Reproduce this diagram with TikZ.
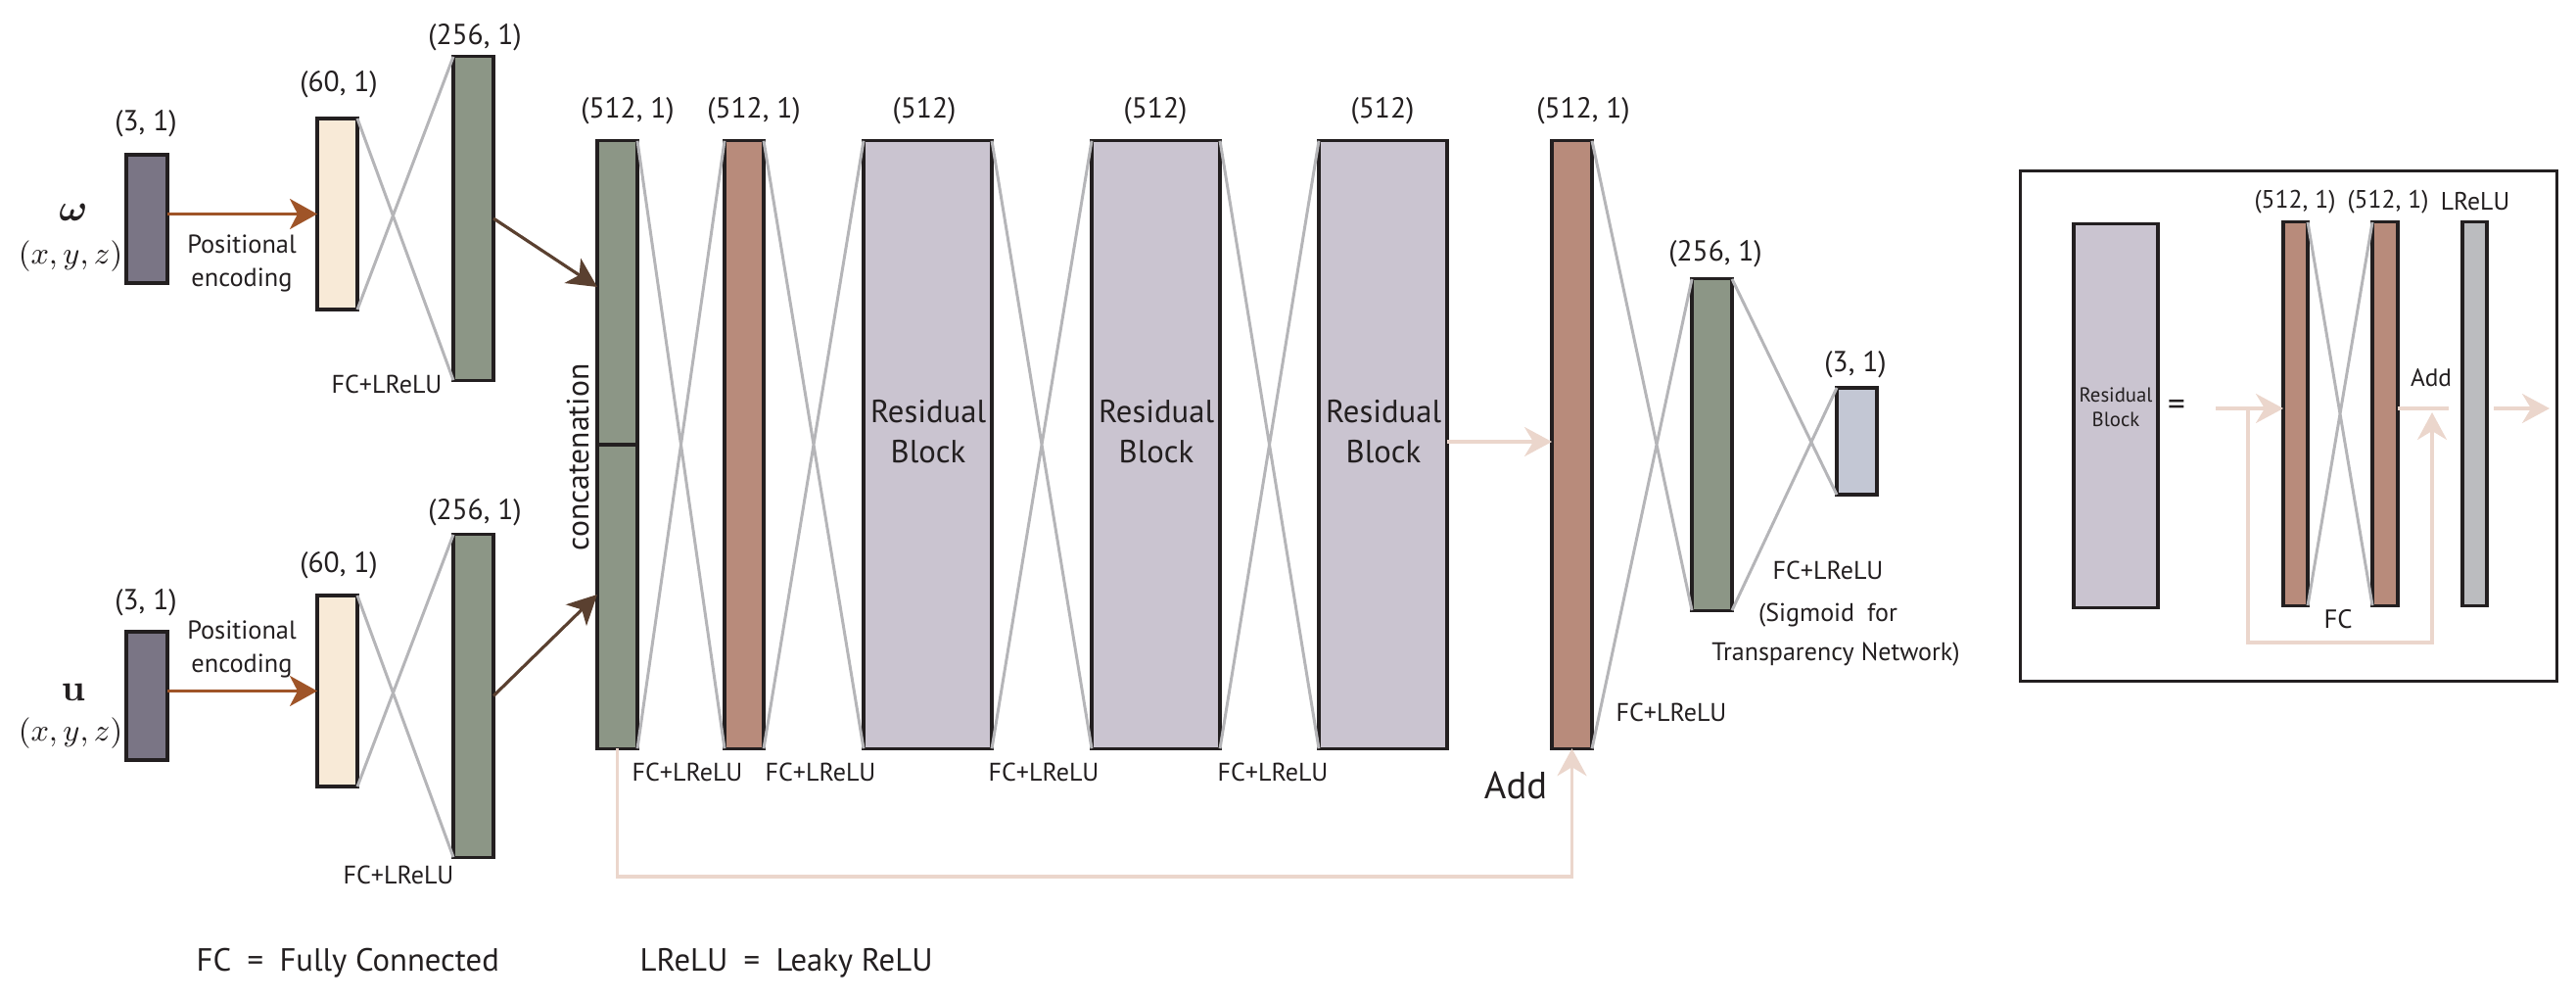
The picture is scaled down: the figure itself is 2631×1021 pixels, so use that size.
\documentclass[tikz,border=0pt]{standalone}
\usepackage{amsmath}
\usepackage[no-math]{fontspec}
\setmainfont{PT Sans}
\usetikzlibrary{arrows.meta}
\definecolor{edgec}{HTML}{231F20}
\definecolor{textc}{HTML}{231F20}
\definecolor{inc}{HTML}{7A7585}
\definecolor{pec}{HTML}{F8EAD7}
\definecolor{grnc}{HTML}{8C9686}
\definecolor{redc}{HTML}{B88B7B}
\definecolor{resc}{HTML}{CAC4D0}
\definecolor{outc}{HTML}{C3C7D4}
\definecolor{lrc}{HTML}{BBBCBF}
\definecolor{lgray}{HTML}{B5B5B8}
\definecolor{brwn}{HTML}{9F5428}
\definecolor{dkbr}{HTML}{5A4030}
\definecolor{pnk}{HTML}{EBD6CC}
\tikzset{
  box/.style={rectangle, draw=edgec, line width=0.9pt, inner sep=0pt, outer sep=0pt},
  gl/.style={draw=lgray, line width=0.85pt},
  lab/.style={inner sep=0pt, outer sep=0pt, text=textc, font=\fontsize{8.4}{10}\selectfont},
  fclab/.style={inner sep=0pt, outer sep=0pt, text=textc, font=\fontsize{7.4}{9}\selectfont},
  reslab/.style={inner sep=0pt, outer sep=0pt, text=textc, align=center, font=\fontsize{9.3}{11.7}\selectfont},
  brarrow/.style={draw=brwn, line width=0.9pt, -{Stealth[length=0.28cm, width=0.31cm, inset=0.08cm]}},
  dkarrow/.style={draw=dkbr, line width=0.9pt, -{Stealth[length=0.30cm, width=0.30cm, inset=0.08cm]}},
  pkarrow/.style={draw=pnk, line width=0.9pt, -{Stealth[length=0.28cm, width=0.30cm, inset=0.09cm]}},
  pkline/.style={draw=pnk, line width=0.9pt},
}
\begin{document}
\begin{tikzpicture}[x=0.01cm, y=-0.01cm]
\useasboundingbox (0,0) rectangle (2631,1021);

% ---------- layer boxes ----------
\node[box, fill=inc, minimum width=0.42cm, minimum height=1.31cm] (in1) at (150,223.5) {};
\node[box, fill=inc, minimum width=0.42cm, minimum height=1.31cm] (in2) at (150,710.5) {};
\node[box, fill=pec, minimum width=0.41cm, minimum height=1.95cm] (pe1) at (344.5,218.5) {};
\node[box, fill=pec, minimum width=0.41cm, minimum height=1.95cm] (pe2) at (344.5,705.5) {};
\node[box, fill=grnc, minimum width=0.41cm, minimum height=3.30cm] (g1) at (483.5,223) {};
\node[box, fill=grnc, minimum width=0.41cm, minimum height=3.29cm] (g2) at (483.5,710.5) {};
\node[box, fill=grnc, minimum width=0.41cm, minimum height=6.20cm] (cat) at (630.5,454) {};
\draw[edgec, line width=0.9pt] (cat.west) -- (cat.east);
\node[box, fill=redc, minimum width=0.40cm, minimum height=6.20cm] (r1) at (760,454) {};
\node[box, fill=resc, minimum width=1.31cm, minimum height=6.20cm] (res1) at (947.5,454) {};
\node[box, fill=resc, minimum width=1.31cm, minimum height=6.20cm] (res2) at (1180.5,454) {};
\node[box, fill=resc, minimum width=1.31cm, minimum height=6.20cm] (res3) at (1412.5,454) {};
\node[box, fill=redc, minimum width=0.41cm, minimum height=6.20cm] (r2) at (1605.5,454) {};
\node[box, fill=grnc, minimum width=0.41cm, minimum height=3.38cm] (g3) at (1748.5,454) {};
\node[box, fill=outc, minimum width=0.41cm, minimum height=1.09cm] (out) at (1896.5,450.5) {};

% ---------- inset ----------
\node[box, minimum width=5.47cm, minimum height=5.20cm] (frame) at (2337.5,435) {};
\node[box, fill=resc, minimum width=0.86cm, minimum height=3.91cm] (irb) at (2161,424.5) {};
\node[box, fill=redc, minimum width=0.25cm, minimum height=3.91cm] (ra) at (2344.5,422.5) {};
\node[box, fill=redc, minimum width=0.26cm, minimum height=3.91cm] (rb) at (2436,422.5) {};
\node[box, fill=lrc, minimum width=0.25cm, minimum height=3.91cm] (lr) at (2527.5,422.5) {};

% ---------- fully connected crossings ----------
\foreach \a/\b in {pe1/g1, pe2/g2, cat/r1, r1/res1, res1/res2, res2/res3, r2/g3, g3/out, ra/rb}
  \draw[gl] (\a.north east) -- (\b.south west) (\a.south east) -- (\b.north west);

% ---------- arrows ----------
\draw[brarrow] (in1.east |- pe1.west) -- (pe1.west);
\draw[brarrow] (in2.east |- pe2.west) -- (pe2.west);
\coordinate (t1y) at (0,293);
\coordinate (t2y) at (0,607);
\draw[dkarrow] (g1.east) -- (cat.west |- t1y);
\draw[dkarrow] (g2.east) -- (cat.west |- t2y);
\coordinate (ay) at (0,451);
\draw[pkarrow] (res3.east |- ay) -- (r2.west |- ay);
\coordinate (sk) at (0,895);
\draw[pkarrow] (cat.south) -- (cat.south |- sk) -| (r2.south);

% inset arrows
\coordinate (iy) at (0,417);
\coordinate (iin) at (2263,417);
\coordinate (isk) at (2296,417);
\coordinate (iskb) at (0,656);
\coordinate (itip) at (2484,421);
\coordinate (iend) at (2501,417);
\coordinate (io1) at (2547,417);
\coordinate (io2) at (2604,417);
\draw[pkarrow] (iin) -- (ra.west |- iy);
\draw[pkarrow] (isk) -- (isk |- iskb) -| (itip);
\draw[pkline] (rb.east |- iy) -- (iend);
\draw[pkarrow] (io1) -- (io2);

% ---------- labels ----------
\node[lab] (l1) at (149,126) {(3, 1)};
\node[lab] (l2) at (149,615) {(3, 1)};
\node[inner sep=0pt, text=textc, font=\fontsize{10.5}{12}\selectfont] (om) at (75,217) {$\boldsymbol{\omega}$};
\node[inner sep=0pt, text=textc, font=\fontsize{9}{11}\selectfont] (xyz1) at (72,262) {$(x,y,z)$};
\node[inner sep=0pt, text=textc, font=\fontsize{10.5}{12}\selectfont] (uu) at (75,707) {$\mathbf{u}$};
\node[inner sep=0pt, text=textc, font=\fontsize{9}{11}\selectfont] (xyz2) at (72,749) {$(x,y,z)$};
\node[inner sep=0pt, text=textc, align=center, font=\fontsize{7.5}{9.7}\selectfont] (pos1) at (247,269) {Positional\\encoding};
\node[inner sep=0pt, text=textc, align=center, font=\fontsize{7.5}{9.7}\selectfont] (pos2) at (247,663) {Positional\\encoding};
\node[lab] (l3) at (346,86) {(60, 1)};
\node[lab] (l4) at (346,577) {(60, 1)};
\node[lab] (l5) at (485,38) {(256, 1)};
\node[lab] (l6) at (485,523) {(256, 1)};
\node[fclab] (f1) at (395,392) {FC+LReLU};
\node[fclab] (f2) at (407,893) {FC+LReLU};
\node[lab] (l7) at (641,113) {(512, 1)};
\node[lab] (l8) at (770,113) {(512, 1)};
\node[lab] (l9) at (944,113) {(512)};
\node[lab] (l10) at (1180,113) {(512)};
\node[lab] (l11) at (1412,113) {(512)};
\node[lab] (l12) at (1617,113) {(512, 1)};
\node[inner sep=0pt, text=textc, rotate=90, font=\fontsize{9}{11}\selectfont] (conc) at (590,467) {concatenation};
\node[reslab] (rt1) at (948,441) {Residual\\Block};
\node[reslab] (rt2) at (1181,441) {Residual\\Block};
\node[reslab] (rt3) at (1413,441) {Residual\\Block};
\node[fclab] (f3) at (702,788) {FC+LReLU};
\node[fclab] (f4) at (838,788) {FC+LReLU};
\node[fclab] (f5) at (1066,788) {FC+LReLU};
\node[fclab] (f6) at (1300,788) {FC+LReLU};
\node[inner sep=0pt, text=textc, font=\fontsize{11}{13}\selectfont] (addm) at (1548,802) {Add};
\node[fclab] (f7) at (1707,727) {FC+LReLU};
\node[lab] (l13) at (1752,259) {(256, 1)};
\node[lab] (l14) at (1895,372) {(3, 1)};
\node[fclab] (f8) at (1867,582) {FC+LReLU};
\node[fclab] (sg1) at (1867,628) {(Sigmoid\enspace for};
\node[fclab] (sg2) at (1875,668) {Transparency Network)};
\node[inner sep=0pt, anchor=west, text=textc, font=\fontsize{9.3}{11}\selectfont] (leg1) at (200,983) {FC\enspace=\enspace Fully Connected};
\node[inner sep=0pt, anchor=west, text=textc, font=\fontsize{9.3}{11}\selectfont] (leg2) at (653,983) {LReLU\enspace=\enspace Leaky ReLU};

% inset labels
\node[inner sep=0pt, text=textc, font=\fontsize{7.3}{8}\selectfont] (il1) at (2344,206) {(512, 1)};
\node[inner sep=0pt, text=textc, font=\fontsize{7.3}{8}\selectfont] (il2) at (2439,206) {(512, 1)};
\node[inner sep=0pt, text=textc, font=\fontsize{7.3}{8}\selectfont] (il3) at (2528,206) {LReLU};
\node[inner sep=0pt, text=textc, align=center, font=\fontsize{5.9}{7.1}\selectfont] (irt) at (2161,416) {Residual\\Block};
\node[inner sep=0pt, text=textc, font=\fontsize{10}{12}\selectfont] (ieq) at (2223,416) {=};
\node[inner sep=0pt, text=textc, font=\fontsize{7.2}{8}\selectfont] (iadd) at (2483,386) {Add};
\node[inner sep=0pt, text=textc, font=\fontsize{7.6}{9}\selectfont] (ifc) at (2388,632) {FC};
\end{tikzpicture}
\end{document}
